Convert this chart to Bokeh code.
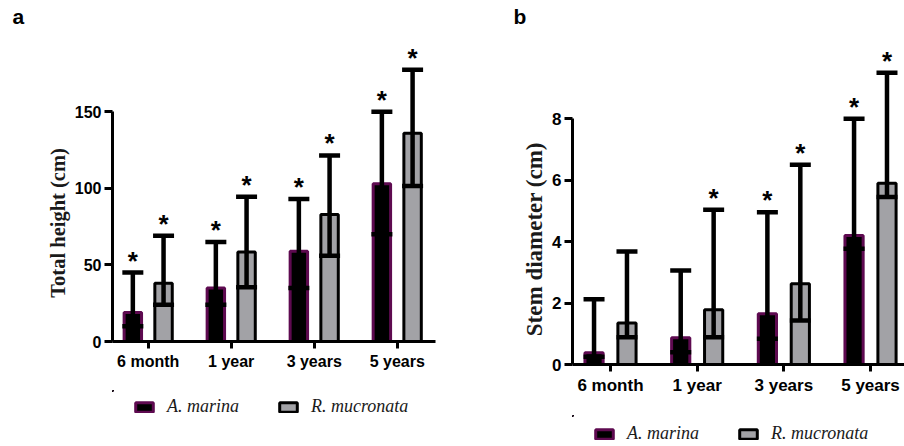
from bokeh.plotting import figure
from bokeh.models import (Whisker, TeeHead, ColumnDataSource, Legend,
                          LegendItem, FixedTicker, Range1d)
from bokeh.layouts import row, column
from bokeh.core.properties import value
from bokeh.embed import file_html
from bokeh.resources import INLINE

# ---------------- data ----------------
categories = ["6 month", "1 year", "3 years", "5 years"]
species = ["A. marina", "R. mucronata"]

height_am_mean = [19, 35, 59, 103]
height_am_low = [10, 24, 35, 70]
height_am_high = [45, 65, 93, 150]
height_rm_mean = [38, 58.5, 83, 136]
height_rm_low = [24, 35.5, 56, 101.5]
height_rm_high = [69, 94.5, 121.5, 177.5]
height_am_star = [True, True, True, True]
height_rm_star = [True, True, True, True]
height_ticks = [0, 50, 100, 150]

diam_am_mean = [0.38, 0.87, 1.65, 4.2]
diam_am_low = [0.25, 0.4, 0.84, 3.77]
diam_am_high = [2.12, 3.06, 4.96, 8.0]
diam_rm_mean = [1.35, 1.78, 2.63, 5.9]
diam_rm_low = [0.89, 0.89, 1.43, 5.45]
diam_rm_high = [3.68, 5.04, 6.5, 9.5]
diam_am_star = [False, False, True, True]
diam_rm_star = [False, True, True, True]
diam_ticks = [0, 2, 4, 6, 8]

AM_FILL = "#000000"
AM_LINE = "#5e0a50"
RM_FILL = "#a2a2a6"
RM_LINE = "#000000"
NBSP = "\u00a0"


def make_panel(width, height, border_left, border_right, border_bottom,
               x_range, y_range, ticks, tick_font, am, rm, offset,
               ytitle, ytitle_font, ytitle_pad, ytitle_standoff,
               panel_letter, letter_offset):
    p = figure(width=width, height=height, output_backend="svg",
               toolbar_location=None, title=panel_letter,
               x_range=Range1d(*x_range), y_range=Range1d(*y_range),
               min_border_left=border_left, min_border_right=border_right,
               min_border_bottom=border_bottom, min_border_top=27)
    p.outline_line_color = None
    p.grid.visible = False
    p.background_fill_color = "white"
    p.title.align = "left"
    p.title.offset = letter_offset
    p.title.standoff = 0
    p.title.text_font = "Liberation Sans"
    p.title.text_font_style = "bold"
    p.title.text_font_size = "21px"
    p.title.text_color = "black"

    idx = list(range(len(categories)))
    for (mean, low, high, star, fill, line, sign) in (
            (am[0], am[1], am[2], am[3], AM_FILL, AM_LINE, -1),
            (rm[0], rm[1], rm[2], rm[3], RM_FILL, RM_LINE, 1)):
        xs = [i + sign * offset for i in idx]
        src = ColumnDataSource(dict(x=xs, top=mean, lo=low, hi=high))
        p.vbar(x="x", top="top", bottom=0, width=0.21, source=src,
               fill_color=fill, line_color=line, line_width=3)
        w = Whisker(base="x", upper="hi", lower="lo", source=src,
                    line_width=4.5, line_color="black", level="annotation",
                    upper_head=TeeHead(size=21, line_width=4.5, line_color="black"),
                    lower_head=TeeHead(size=21, line_width=4.5, line_color="black"))
        p.add_layout(w)
        sx = [x for x, s in zip(xs, star) if s]
        sy = [h for h, s in zip(high, star) if s]
        p.text(x=sx, y=sy, text=["*"] * len(sx), text_align="center",
               text_baseline="alphabetic", text_font=value("Liberation Sans"),
               text_font_style="bold", text_font_size="26px", y_offset=-12,
               text_color="black")

    xa = p.xaxis[0]
    xa.ticker = FixedTicker(ticks=idx)
    xa.major_label_overrides = {i: c for i, c in zip(idx, categories)}
    xa.minor_tick_line_color = None
    xa.major_tick_out = 7
    xa.major_tick_in = 0
    xa.major_tick_line_width = 3
    xa.axis_line_width = 3
    xa.major_label_text_font = "Liberation Sans"
    xa.major_label_text_font_style = "bold"
    xa.major_label_text_font_size = tick_font
    xa.major_label_text_color = "black"
    xa.major_label_standoff = 4

    ya = p.yaxis[0]
    ya.ticker = FixedTicker(ticks=ticks)
    ya.bounds = (ticks[0], ticks[-1])
    ya.minor_tick_line_color = None
    ya.major_tick_out = 8
    ya.major_tick_in = 0
    ya.major_tick_line_width = 3
    ya.axis_line_width = 3
    ya.major_label_text_font = "Liberation Sans"
    ya.major_label_text_font_style = "bold"
    ya.major_label_text_font_size = tick_font
    ya.major_label_text_color = "black"
    ya.major_label_standoff = 3
    # the title is centred on 0..max tick, not on the whole frame:
    # trailing no-break spaces shift the visible words down
    ya.axis_label = ytitle + NBSP * ytitle_pad
    ya.axis_label_text_font = "Liberation Serif"
    ya.axis_label_text_font_style = "bold"
    ya.axis_label_text_font_size = ytitle_font
    ya.axis_label_text_color = "#1a1a1a"
    ya.axis_label_standoff = ytitle_standoff
    return p


def make_legend(width, height, loc, am_mean, rm_mean):
    # legend strip under each panel; its bars lie far outside its (empty) view
    q = figure(width=width, height=height, output_backend="svg",
               toolbar_location=None, title=None,
               x_axis_location=None, y_axis_location=None,
               x_range=Range1d(1000, 1001), y_range=Range1d(-1000, -999),
               min_border=0)
    q.outline_line_color = None
    q.grid.visible = False
    idx = list(range(len(categories)))
    r_am = q.vbar(x=idx, top=am_mean, bottom=0, width=0.2, fill_color=AM_FILL,
                  line_color=AM_LINE, line_width=3)
    r_rm = q.vbar(x=idx, top=rm_mean, bottom=0, width=0.2, fill_color=RM_FILL,
                  line_color=RM_LINE, line_width=3)
    legend = Legend(items=[LegendItem(label=species[0], renderers=[r_am]),
                           LegendItem(label=species[1], renderers=[r_rm])],
                    location=loc, orientation="horizontal",
                    glyph_width=22, glyph_height=12, label_standoff=12,
                    spacing=38, padding=0, margin=0,
                    border_line_color=None, background_fill_alpha=0,
                    label_text_font="Liberation Serif",
                    label_text_font_style="italic",
                    label_text_font_size="18px", label_text_color="#1a1a1a")
    q.add_layout(legend)
    return q


pa = make_panel(450, 390, 112, 15, 49, (-0.430, 3.461), (0, 205.1),
                height_ticks, "16px",
                (height_am_mean, height_am_low, height_am_high, height_am_star),
                (height_rm_mean, height_rm_low, height_rm_high, height_rm_star),
                0.185, "Total height (cm)", "20.5px", 15, 3, "a", -100)
la = make_legend(450, 56, (21, 29), height_am_mean, height_rm_mean)

pb = make_panel(454, 415, 122, 0, 51, (-0.4385, 3.392), (0, 10.97),
                diam_ticks, "17px",
                (diam_am_mean, diam_am_low, diam_am_high, diam_am_star),
                (diam_rm_mean, diam_rm_low, diam_rm_high, diam_rm_star),
                0.19, "Stem diameter (cm)", "23px", 15, 2, "b", -59)
lb = make_legend(454, 31, (21, 2), diam_am_mean, diam_rm_mean)

layout = row(column(pa, la), column(pb, lb))
open("out.html", "w").write(file_html(layout, INLINE))
